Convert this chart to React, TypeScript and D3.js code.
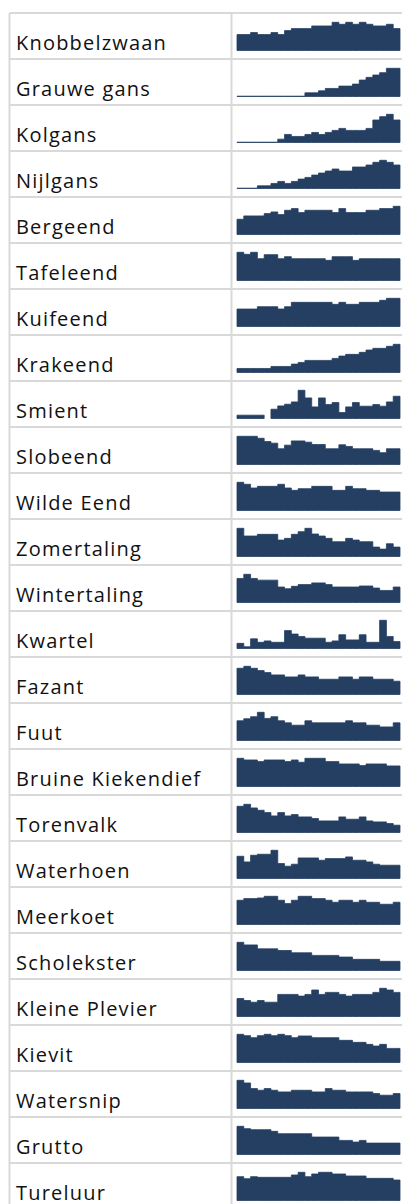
import * as d3 from "d3";

// species shown in the table, top to bottom
const species = [
  "Knobbelzwaan", "Grauwe gans", "Kolgans", "Nijlgans", "Bergeend", "Tafeleend",
  "Kuifeend", "Krakeend", "Smient", "Slobeend", "Wilde Eend", "Zomertaling",
  "Wintertaling", "Kwartel", "Fazant", "Fuut", "Bruine Kiekendief", "Torenvalk",
  "Waterhoen", "Meerkoet", "Scholekster", "Kleine Plevier", "Kievit",
  "Watersnip", "Grutto", "Tureluur",
];

// index values per year (24 years)
const knobbelzwaan = [48, 48, 54, 48, 48, 54, 48, 60, 66, 66, 66, 74, 74, 74, 85, 79, 85, 79, 85, 79, 74, 74, 79, 66];
const grauweGans = [1, 1, 1, 1, 1, 1, 1, 1, 1, 1, 11, 11, 17, 24, 24, 31, 31, 37, 49, 57, 64, 71, 84, 84];
const kolgans = [1, 1, 1, 1, 1, 1, 10, 24, 18, 18, 24, 30, 24, 30, 36, 42, 36, 36, 36, 42, 67, 77, 84, 67];
const nijlgans = [1, 1, 1, 8, 8, 15, 21, 15, 21, 28, 33, 40, 46, 52, 58, 52, 52, 64, 64, 70, 78, 84, 78, 70];
const bergeend = [46, 56, 56, 56, 63, 68, 60, 73, 78, 66, 73, 73, 73, 73, 66, 78, 66, 66, 66, 73, 73, 78, 78, 85];
const tafeleend = [84, 78, 84, 65, 77, 77, 65, 71, 65, 65, 65, 65, 65, 60, 71, 71, 71, 60, 65, 65, 65, 65, 65, 65];
const kuifeend = [52, 52, 52, 59, 59, 59, 52, 59, 72, 72, 72, 72, 72, 72, 66, 72, 66, 66, 72, 72, 72, 78, 84, 84];
const krakeend = [12, 12, 12, 12, 12, 18, 18, 18, 25, 30, 36, 36, 36, 36, 42, 49, 54, 54, 60, 67, 72, 72, 78, 84];
const smient = [10, 10, 10, 10, null, 28, 38, 43, 50, 85, 62, 35, 62, 42, 48, 18, 35, 48, 37, 37, 42, 37, 50, 67];
const slobeend = [86, 86, 86, 80, 70, 65, 48, 59, 72, 72, 68, 61, 61, 48, 48, 60, 55, 48, 48, 48, 43, 36, 48, 48];
const wildeEend = [84, 78, 67, 72, 72, 72, 78, 67, 60, 65, 65, 72, 72, 72, 60, 60, 72, 65, 65, 60, 60, 55, 55, 55];
const zomertaling = [84, 61, 61, 66, 66, 66, 49, 54, 66, 74, 84, 67, 61, 54, 44, 44, 54, 49, 44, 44, 28, 22, 38, 28];
const wintertaling = [70, 82, 70, 65, 65, 65, 45, 40, 47, 52, 52, 57, 57, 52, 45, 45, 45, 45, 48, 48, 42, 35, 35, 45];
const kwartel = [15, 5, 28, 18, 22, 18, 18, 52, 42, 35, 30, 30, 30, 18, 22, 40, 25, 25, 40, 18, 18, 82, 35, 20];
const fazant = [79, 85, 79, 72, 66, 59, 59, 53, 53, 59, 53, 53, 46, 46, 46, 53, 53, 46, 53, 53, 46, 46, 46, 40];
const fuut = [58, 64, 70, 83, 65, 70, 58, 52, 45, 45, 58, 52, 52, 52, 52, 52, 58, 52, 52, 45, 45, 40, 40, 52];
const bruineKiekendief = [85, 80, 80, 75, 80, 80, 80, 75, 80, 73, 85, 85, 85, 75, 75, 68, 68, 68, 63, 68, 68, 68, 62, 62];
const torenvalk = [79, 85, 74, 67, 60, 50, 60, 50, 54, 47, 47, 42, 35, 35, 35, 47, 40, 40, 47, 35, 32, 32, 27, 22];
const waterhoen = [67, 50, 70, 73, 73, 85, 45, 37, 43, 62, 62, 62, 55, 60, 60, 60, 65, 55, 55, 50, 43, 40, 40, 40];
const meerkoet = [73, 78, 78, 80, 85, 85, 73, 63, 73, 85, 85, 78, 78, 73, 67, 73, 73, 67, 73, 67, 67, 61, 61, 67];
const scholekster = [86, 78, 78, 66, 66, 66, 61, 61, 54, 54, 54, 46, 46, 46, 46, 41, 41, 34, 34, 34, 34, 28, 28, 28];
const kleinePlevier = [53, 47, 42, 47, 42, 42, 65, 65, 65, 60, 65, 78, 65, 71, 71, 65, 60, 65, 65, 65, 71, 83, 78, 71];
const kievit = [84, 80, 74, 80, 84, 80, 84, 80, 74, 79, 79, 74, 74, 74, 74, 66, 66, 60, 60, 54, 49, 54, 42, 42];
const watersnip = [85, 77, 60, 55, 60, 55, 50, 50, 55, 55, 55, 50, 50, 60, 55, 55, 50, 50, 50, 50, 45, 40, 40, 45];
const grutto = [84, 77, 74, 74, 74, 69, 62, 62, 62, 62, 62, 52, 52, 52, 52, 42, 42, 37, 42, 34, 34, 34, 34, 34];
const tureluur = [71, 65, 71, 69, 69, 69, 69, 69, 76, 84, 71, 79, 84, 84, 79, 79, 73, 73, 73, 66, 66, 66, 66, 61];

const series: (number | null)[][] = [
  knobbelzwaan, grauweGans, kolgans, nijlgans, bergeend, tafeleend, kuifeend,
  krakeend, smient, slobeend, wildeEend, zomertaling, wintertaling, kwartel,
  fazant, fuut, bruineKiekendief, torenvalk, waterhoen, meerkoet, scholekster,
  kleinePlevier, kievit, watersnip, grutto, tureluur,
];

const W = 402;
const H = 1204;
const top0 = 13;
const rowH = 46;
const left = 9.5;
const divider = 231.5;
const gridColor = "#d9d9d9";
const fill = "#243f62";

const x = d3.scaleLinear().domain([0, 24]).range([237, 400]);

type P = { i: number; v: number | null };

const Spark = ({ values, row }: { values: (number | null)[]; row: number }) => {
  const yTop = top0 + row * rowH;
  const max = d3.max(values, (d) => d ?? 0) ?? 1;
  const y = d3.scaleLinear().domain([0, max]).range([yTop + 37.5, yTop + 9.3]);
  // expand every value into a flat step [i, i+1]
  const pts: P[] = [];
  values.forEach((v, i) => {
    pts.push({ i, v });
    pts.push({ i: i + 1, v });
    if (v === null) pts.push({ i: i + 1, v: null });
  });
  const area = d3
    .area<P>()
    .defined((d) => d.v !== null)
    .x((d) => x(d.i))
    .y0(y(0))
    .y1((d) => y(d.v as number));
  return <path d={area(pts) ?? ""} fill={fill} stroke={fill} strokeWidth={0.8} strokeLinejoin="miter" />;
};

export default function App() {
  return (
    <div style={{ position: "absolute", left: 0, top: 0 }}>
      <svg width={W} height={H} style={{ display: "block" }}>
        <rect width={W} height={H} fill="#fff" />
        {species.map((s, i) => (
          <text
            key={s}
            x={16}
            y={top0 + i * rowH + 37}
            fontFamily="'Open Sans', sans-serif"
            fontSize={20}
            letterSpacing={1.2}
            fill="#111"
          >
            {s}
          </text>
        ))}
        {series.map((v, i) => (
          <Spark key={i} values={v} row={i} />
        ))}
        {d3.range(species.length + 1).map((i) => (
          <line key={i} x1={left} x2={W} y1={top0 + i * rowH} y2={top0 + i * rowH} stroke={gridColor} strokeWidth={2} />
        ))}
        <line x1={left} x2={left} y1={top0} y2={H} stroke={gridColor} strokeWidth={2} />
        <line x1={divider} x2={divider} y1={top0} y2={H} stroke={gridColor} strokeWidth={2} />
      </svg>
    </div>
  );
}
